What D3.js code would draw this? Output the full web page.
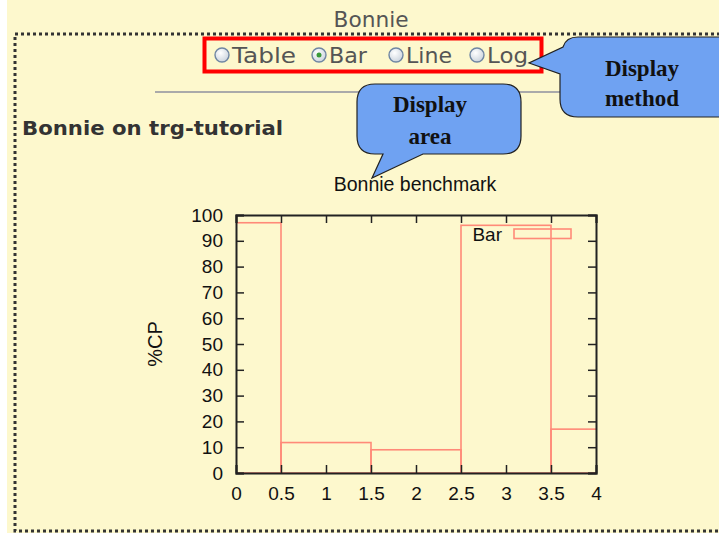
<!DOCTYPE html>
<html><head><meta charset="utf-8">
<script src="https://cdn.jsdelivr.net/npm/d3@7"></script>
<style>html,body{margin:0;padding:0;background:#fff;}svg{display:block;}</style>
</head><body>
<svg id="c" width="719" height="533"></svg>
<script>
// ---- data ----
const categories = [0, 1, 2, 3, 4];          // bar centres on the x axis
const barValues = [97, 11.8, 9, 96, 17];     // %CP
const seriesName = "Bar";
const xTicks = [0, 0.5, 1, 1.5, 2, 2.5, 3, 3.5, 4];
const yTicks = [0, 10, 20, 30, 40, 50, 60, 70, 80, 90, 100];
const radioOptions = ["Table", "Bar", "Line", "Log"];
const selectedOption = "Bar";

const svg = d3.select("#c");
const bg = "#fdf8cd";
svg.append("rect").attr("x", 7).attr("y", 0).attr("width", 712).attr("height", 533).attr("fill", bg);

// page header
svg.append("text").attr("x", 371).attr("y", 27).attr("text-anchor", "middle")
  .attr("font-family", "DejaVu Sans").attr("font-size", 22).attr("fill", "#555")
  .attr("textLength", 75).attr("lengthAdjust", "spacingAndGlyphs").text("Bonnie");

// dotted frame
svg.append("rect").attr("x", 15).attr("y", 34).attr("width", 760).attr("height", 497)
  .attr("fill", "none").attr("stroke", "#333").attr("stroke-width", 3).attr("stroke-dasharray", "3,3");

// radio group
const defs = svg.append("defs");
const rg = defs.append("radialGradient").attr("id", "rg").attr("cx", "40%").attr("cy", "35%").attr("r", "70%");
rg.append("stop").attr("offset", "0%").attr("stop-color", "#ffffff");
rg.append("stop").attr("offset", "100%").attr("stop-color", "#c9d2dc");

const radioX = [222, 319, 396, 477];
const radioLen = [64, 38, 46, 41];
radioOptions.forEach((opt, i) => {
  const g = svg.append("g");
  g.append("circle").attr("cx", radioX[i]).attr("cy", 55).attr("r", 7)
    .attr("fill", "url(#rg)").attr("stroke", "#6f86a3").attr("stroke-width", 1.4);
  if (opt === selectedOption) g.append("circle").attr("cx", radioX[i]).attr("cy", 55).attr("r", 2.5).attr("fill", "#3a9a3a");
  g.append("text").attr("x", radioX[i] + 10).attr("y", 63).attr("font-family", "DejaVu Sans")
    .attr("font-size", 22).attr("fill", "#555")
    .attr("textLength", radioLen[i]).attr("lengthAdjust", "spacingAndGlyphs").text(opt);
});

svg.append("rect").attr("x", 204.5).attr("y", 38.5).attr("width", 337).attr("height", 33)
  .attr("fill", "none").attr("stroke", "#ff0000").attr("stroke-width", 4);

// separator
svg.append("line").attr("x1", 155).attr("x2", 600).attr("y1", 92).attr("y2", 92).attr("stroke", "#aaa").attr("stroke-width", 2);

svg.append("text").attr("x", 22).attr("y", 135).attr("font-family", "DejaVu Sans").attr("font-weight", "bold")
  .attr("font-size", 20).attr("fill", "#333")
  .attr("textLength", 261).attr("lengthAdjust", "spacingAndGlyphs").text("Bonnie on trg-tutorial");

// ---- chart ----
const x = d3.scaleLinear().domain([0, 4]).range([236, 596]);
const y = d3.scaleLinear().domain([0, 100]).range([473, 215]);
const chart = svg.append("g");
defs.append("clipPath").attr("id", "clip").append("rect")
  .attr("x", x(0)).attr("y", y(100)).attr("width", x(4) - x(0)).attr("height", y(0) - y(100));

chart.append("text").attr("x", 415).attr("y", 191).attr("text-anchor", "middle")
  .attr("font-family", "Liberation Sans").attr("font-size", 19.5).attr("fill", "#111").text("Bonnie benchmark");

chart.append("text").attr("transform", `translate(162,${(y(0)+y(100))/2}) rotate(-90)`).attr("text-anchor", "middle")
  .attr("font-family", "Liberation Sans").attr("font-size", 20).attr("fill", "#111").text("%CP");

// bars
chart.append("g").attr("clip-path", "url(#clip)").selectAll("rect").data(categories).join("rect")
  .attr("x", d => x(d - 0.5)).attr("width", d => x(d + 0.5) - x(d - 0.5))
  .attr("y", (d, i) => y(barValues[i])).attr("height", (d, i) => y(0) - y(barValues[i]))
  .attr("fill", "none").attr("stroke", "#ff8a78").attr("stroke-width", 1.6);

// axes (gnuplot style, ticks inward on all sides)
const axB = chart.append("g").attr("transform", `translate(0,${y(0)})`)
  .call(d3.axisBottom(x).tickValues(xTicks).tickSize(-8).tickPadding(14).tickFormat(d3.format("")));
const axT = chart.append("g").attr("transform", `translate(0,${y(100)})`)
  .call(d3.axisTop(x).tickValues(xTicks).tickSize(-8).tickFormat(""));
const axL = chart.append("g").attr("transform", `translate(${x(0)},0)`)
  .call(d3.axisLeft(y).tickValues(yTicks).tickSize(-8).tickPadding(13));
const axR = chart.append("g").attr("transform", `translate(${x(4)},0)`)
  .call(d3.axisRight(y).tickValues(yTicks).tickSize(-8).tickFormat(""));
[axB, axT, axL, axR].forEach(a => {
  a.select(".domain").attr("stroke", "#222").attr("stroke-width", 2);
  a.selectAll(".tick line").attr("stroke", "#222").attr("stroke-width", 1.5);
  a.selectAll(".tick text").attr("font-family", "Liberation Sans").attr("font-size", 19).attr("fill", "#111");
});

// legend
chart.append("text").attr("x", 502).attr("y", 241).attr("text-anchor", "end")
  .attr("font-family", "Liberation Sans").attr("font-size", 19).attr("fill", "#111").text(seriesName);
chart.append("rect").attr("x", 514).attr("y", 229).attr("width", 57).attr("height", 9.5)
  .attr("fill", "none").attr("stroke", "#ff8a78").attr("stroke-width", 1.6);

// ---- callouts ----
const calloutFill = "#6fa2f2";
const calloutFont = t => t.attr("text-anchor", "middle").attr("font-family", "Liberation Serif")
  .attr("font-weight", "bold").attr("font-size", 23).attr("fill", "#111");
svg.append("path").attr("d", "M578,37 H760 V117 H578 Q560,117 560,99 V74 L529,63 L563,47 Q566,37 578,37 Z")
  .attr("fill", calloutFill).attr("stroke", "#222").attr("stroke-width", 1.2);
svg.append("text").attr("x", 642).attr("y", 76).call(calloutFont).text("Display");
svg.append("text").attr("x", 642).attr("y", 106).call(calloutFont).text("method");

svg.append("path").attr("d", "M375,84 H503 Q521,84 521,102 V136 Q521,154 503,154 H423 L372,178 L383,154 H375 Q357,154 357,136 V102 Q357,84 375,84 Z")
  .attr("fill", calloutFill).attr("stroke", "#222").attr("stroke-width", 1.2);
svg.append("text").attr("x", 430).attr("y", 112).call(calloutFont).text("Display");
svg.append("text").attr("x", 430).attr("y", 144).call(calloutFont).text("area");
</script>
</body></html>
